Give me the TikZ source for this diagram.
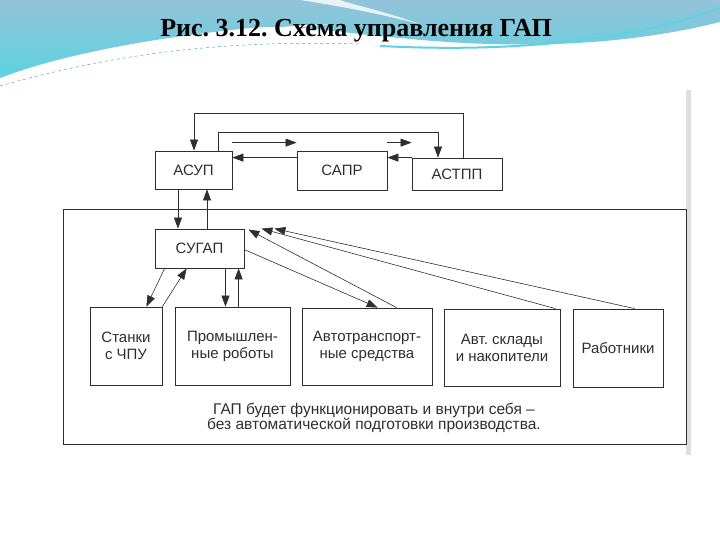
\documentclass[tikz,border=0pt]{standalone}
\usepackage{fontspec}
\setmainfont{Liberation Serif}
\setsansfont{Liberation Sans}
\usetikzlibrary{arrows.meta,calc}
\definecolor{inkgray}{HTML}{2E2E2E}
\definecolor{skyA}{HTML}{93C3D8}
\definecolor{skyB}{HTML}{5CD2E2}
\frenchspacing
\begin{document}
\begin{tikzpicture}[x=1pt,y=-1pt,
  blok/.style={draw=inkgray,line width=0.8pt,align=center,inner sep=0pt,
    font=\sffamily\fontsize{15}{17}\selectfont,text=inkgray},
  arr/.style={-{Triangle[length=11pt,width=8pt]},draw=inkgray,line width=0.6pt}]
\useasboundingbox (0,0) rectangle (720,540);
% slide background
\shade[top color=skyA,bottom color=skyB] (0,0) -- (720,0) -- (720,22)
  .. controls (600,52) and (480,46) .. (400,38)
  .. controls (330,32) and (300,24) .. (250,28)
  .. controls (150,38) and (60,55) .. (0,78) -- cycle;
\fill[white] (0,84) .. controls (90,50) and (200,30) .. (330,24)
  .. controls (220,36) and (100,56) .. (0,90) -- cycle;
\draw[skyB!80!black,line width=0.5pt,dashed] (0,86) .. controls (120,52) and (230,40) .. (360,44);
\draw[skyB,line width=2pt] (380,46) .. controls (500,52) and (620,44) .. (720,8);
\fill[white,opacity=.8] (300,0) .. controls (340,6) and (380,14) .. (420,24)
  .. controls (380,10) and (350,4) .. (340,0) -- cycle;
\fill[gray!25] (686,90) rectangle (691,455);
\node[font=\bfseries\fontsize{26}{30}\selectfont] (title) at (356,31) {Рис. 3.12. Схема управления ГАП};
% upper level
\node[blok,minimum width=77pt,minimum height=38pt] (asup) at (193.5,170) {АСУП};
\node[blok,minimum width=90pt,minimum height=39pt] (sapr) at (342,170.5) {САПР};
\node[blok,minimum width=90pt,minimum height=32pt] (astpp) at (457,174) {АСТПП};
\coordinate (loopO) at (194,113);
\coordinate (loopI) at (438,132);
\draw[arr] ($(astpp.north)+(6,0)$) |- (loopO) -- (loopO |- asup.north);
\draw[arr] ($(asup.north)+(24.5,0)$) |- (loopI) -- (loopI |- astpp.north);
\draw[arr] ($(asup.north east)+(0,-8)$) -- ($(sapr.north west)+(0,-8)$);
\draw[arr] ($(sapr.north east)+(0,-8)$) -- ($(astpp.north west)+(0,-15)$);
\draw[arr] ($(sapr.north west)+(0,7)$) -- ($(asup.north east)+(0,7)$);
\draw[arr] (astpp.north west) -- ($(sapr.north east)+(0,7)$);
% frame of the system
\draw[inkgray,line width=0.9pt] (63,209) rectangle (686,444);
\node[blok,minimum width=89pt,minimum height=39pt] (sugap) at (199.5,248.5) {СУГАП};
\draw[arr] ($(asup.south)+(-15.5,0)$) coordinate (d1) -- (d1 |- sugap.north);
\draw[arr] ($(sugap.north)+(7.5,0)$) coordinate (u1) -- (u1 |- asup.south);
% lower level
\node[blok,minimum width=72pt,minimum height=78pt] (stanki) at (126,346) {Станки\\с ЧПУ};
\node[blok,minimum width=115pt,minimum height=78pt] (roboty) at (232.5,346) {Промышлен-\\ные роботы};
\node[blok,minimum width=130pt,minimum height=77pt] (avto) at (367,346.5) {Автотранспорт-\\ные средства};
\node[blok,minimum width=116pt,minimum height=77pt] (sklady) at (502,347.5) {Авт. склады\\и накопители};
\node[blok,minimum width=90pt,minimum height=78pt] (rabot) at (618,348) {Работники};
\draw[arr] ($(sugap.south west)+(10,0)$) -- ($(stanki.north east)+(-16,0)$);
\draw[arr] (stanki.north east) -- ($(sugap.south west)+(32,0)$);
\draw[arr] ($(sugap.south)+(26,0)$) coordinate (d2) -- (d2 |- roboty.north);
\draw[arr] ($(roboty.north west)+(64,0)$) coordinate (u2) -- (u2 |- sugap.south);
\draw[arr] ($(sugap.north east)+(0,21)$) -- ($(avto.north west)+(76,0)$);
\draw[arr] ($(avto.north west)+(95,0)$) -- ($(sugap.north east)+(4,1)$);
\draw[arr] ($(sklady.north east)+(-5,0)$) -- ($(sugap.north east)+(17,0)$);
\draw[arr] ($(rabot.north west)+(62,0)$) -- ($(sugap.north east)+(30,0)$);
\node[align=center,font=\sffamily\fontsize{15.5}{15}\selectfont,text=inkgray] (note) at (374,418)
  {ГАП будет функционировать и внутри себя –\\без автоматической подготовки производства.};
\end{tikzpicture}
\end{document}
